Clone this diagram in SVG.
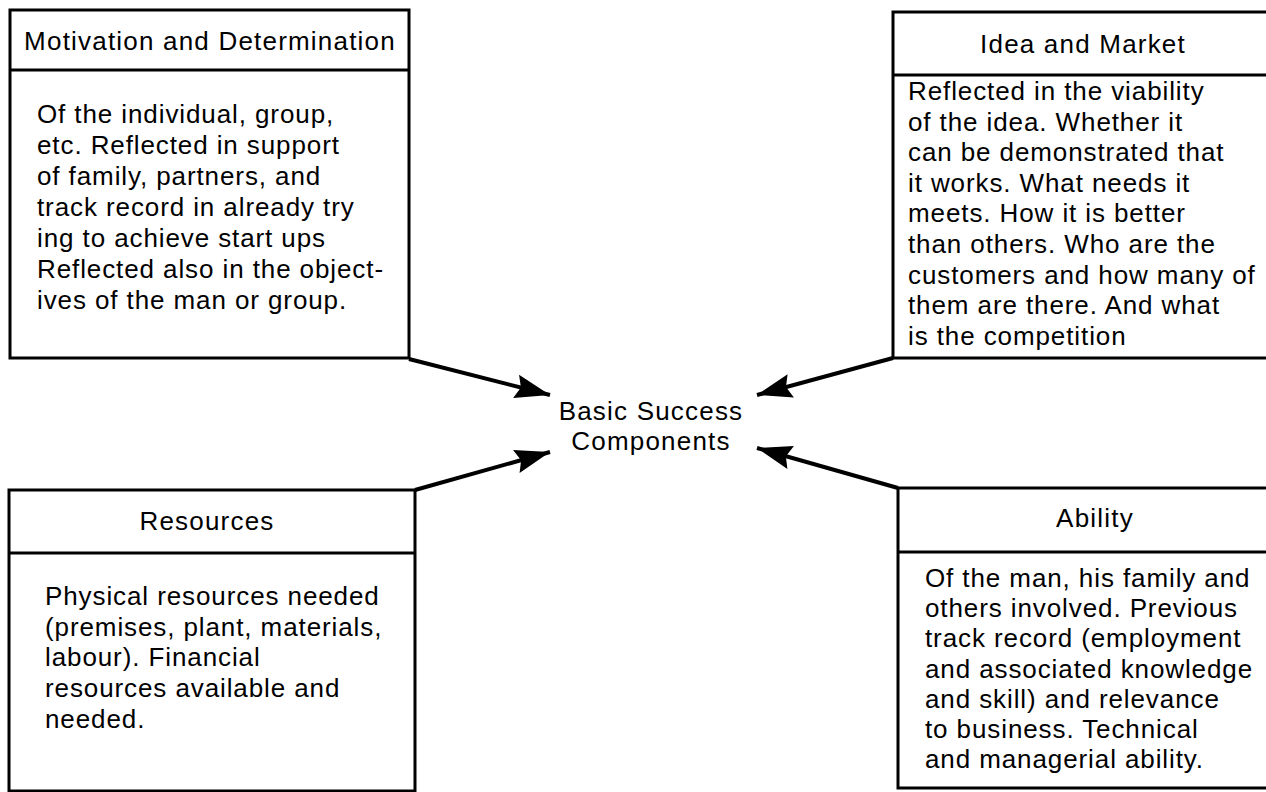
<svg xmlns="http://www.w3.org/2000/svg" width="1266" height="792" viewBox="0 0 1266 792">
<style>
.box{fill:#fff;stroke:#000;stroke-width:3}
.div{stroke:#000;stroke-width:3}
.t{font-family:"Liberation Sans",Arial,sans-serif;font-size:26px;letter-spacing:0.9px;fill:#000}
.h{font-family:"Liberation Sans",Arial,sans-serif;font-size:26px;letter-spacing:1.2px;fill:#000;text-anchor:middle}
.c{stroke:#000;stroke-width:4;fill:none}
</style>
<defs>
<marker id="ah" markerUnits="userSpaceOnUse" markerWidth="38" markerHeight="28" refX="35" refY="14" orient="auto">
<polygon points="0,2 35,14 0,26 5,14" fill="#000"/>
</marker>
</defs>
<rect width="1266" height="792" fill="#fff"/>
<g id="motivation">
<rect class="box" x="10" y="10" width="399" height="348"/>
<line class="div" x1="10" y1="70" x2="409" y2="70"/>
<text class="h" x="210" y="50">Motivation and Determination</text>
<text class="t" x="37" y="123">Of the individual, group,</text>
<text class="t" x="37" y="154">etc. Reflected in support</text>
<text class="t" x="37" y="185">of family, partners, and</text>
<text class="t" x="37" y="216">track record in already try</text>
<text class="t" x="37" y="247">ing to achieve start ups</text>
<text class="t" x="37" y="278">Reflected also in the object-</text>
<text class="t" x="37" y="309">ives of the man or group.</text>
</g>
<g id="idea">
<rect class="box" x="893" y="12" width="400" height="346"/>
<line class="div" x1="893" y1="75" x2="1266" y2="75"/>
<text class="h" x="1083" y="53">Idea and Market</text>
<text class="t" x="908" y="100">Reflected in the viability</text>
<text class="t" x="908" y="131">of the idea. Whether it</text>
<text class="t" x="908" y="161">can be demonstrated that</text>
<text class="t" x="908" y="192">it works. What needs it</text>
<text class="t" x="908" y="222">meets. How it is better</text>
<text class="t" x="908" y="253">than others. Who are the</text>
<text class="t" x="908" y="284">customers and how many of</text>
<text class="t" x="908" y="314">them are there. And what</text>
<text class="t" x="908" y="345">is the competition</text>
</g>
<g id="resources">
<rect class="box" x="9" y="490" width="406" height="301"/>
<line class="div" x1="9" y1="553" x2="415" y2="553"/>
<text class="h" x="207" y="530">Resources</text>
<text class="t" x="45" y="605">Physical resources needed</text>
<text class="t" x="45" y="636">(premises, plant, materials,</text>
<text class="t" x="45" y="666">labour). Financial</text>
<text class="t" x="45" y="697">resources available and</text>
<text class="t" x="45" y="728">needed.</text>
</g>
<g id="ability">
<rect class="box" x="898" y="488" width="400" height="300"/>
<line class="div" x1="898" y1="552" x2="1266" y2="552"/>
<text class="h" x="1095" y="527">Ability</text>
<text class="t" x="925" y="587">Of the man, his family and</text>
<text class="t" x="925" y="617">others involved. Previous</text>
<text class="t" x="925" y="647">track record (employment</text>
<text class="t" x="925" y="678">and associated knowledge</text>
<text class="t" x="925" y="708">and skill) and relevance</text>
<text class="t" x="925" y="738">to business. Technical</text>
<text class="t" x="925" y="768">and managerial ability.</text>
</g>
<g id="center">
<text class="h" x="651" y="420">Basic Success</text>
<text class="h" x="651" y="450">Components</text>
</g>
<g id="connectors">
<line class="c" x1="409" y1="359" x2="550" y2="395" marker-end="url(#ah)"/>
<line class="c" x1="415" y1="490" x2="550" y2="452" marker-end="url(#ah)"/>
<line class="c" x1="893" y1="358" x2="757" y2="395" marker-end="url(#ah)"/>
<line class="c" x1="898" y1="488" x2="757" y2="448" marker-end="url(#ah)"/>
</g>
</svg>
